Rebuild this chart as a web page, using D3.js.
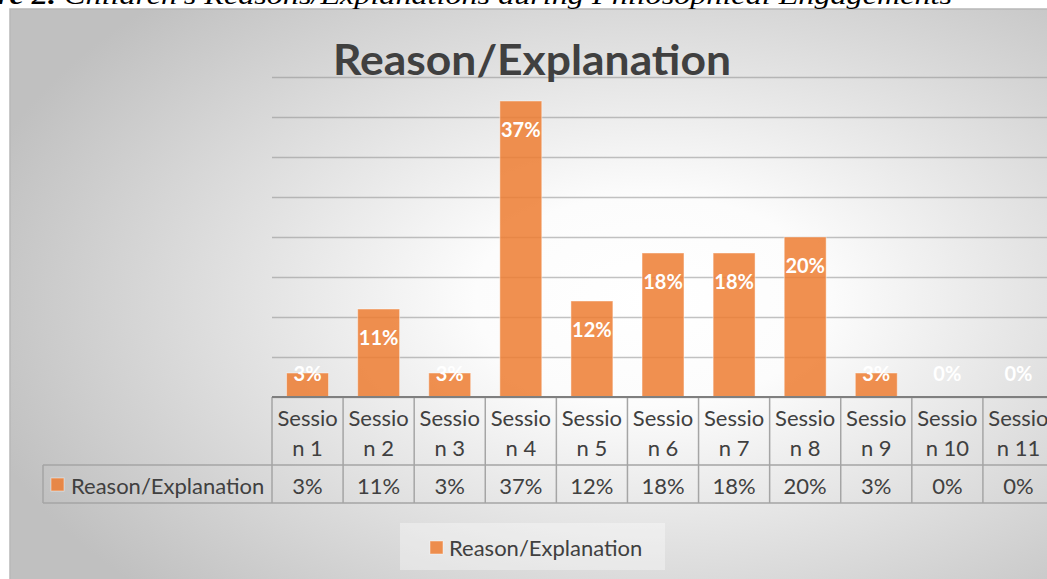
<!DOCTYPE html>
<html lang="en">
<head>
    <meta charset="UTF-8">
    <title>Reason/Explanation</title>
    <script src="https://d3js.org/d3.v7.min.js"></script>
    <style>
        body {
            margin: 0;
            background: #ffffff;
            overflow: hidden;
        }
        .cell-text {
            font-family: Lato, "Open Sans", sans-serif;
            font-size: 22px;
            fill: #404040;
        }
        .bar-label {
            font-family: Lato, "Open Sans", sans-serif;
            font-size: 20px;
            font-weight: bold;
            fill: #ffffff;
        }
    </style>
</head>
<body>
    <div id="chart"></div>
    <script>
        // data
        const categories = ["Session 1", "Session 2", "Session 3", "Session 4", "Session 5", "Session 6",
                            "Session 7", "Session 8", "Session 9", "Session 10", "Session 11"];
        const values = [3, 11, 3, 37, 12, 18, 18, 20, 3, 0, 0];
        const seriesName = "Reason/Explanation";
        const yTicks = [0, 5, 10, 15, 20, 25, 30, 35, 40];
        const chartTitle = "Reason/Explanation";

        const W = 1047, H = 579;
        const plot = {left: 272, right: 1054, top: 77, bottom: 397};
        const headerBottom = 465, tableBottom = 503, keyLeft = 43;
        const barColor = "#ED7D31";

        const svg = d3.select("#chart").append("svg")
            .attr("width", W)
            .attr("height", H);

        // radial background of the chart box
        const defs = svg.append("defs");
        const grad = defs.append("radialGradient")
            .attr("id", "bg")
            .attr("gradientUnits", "userSpaceOnUse")
            .attr("cx", 0).attr("cy", 0).attr("r", 1)
            .attr("gradientTransform", "translate(650,300) scale(700,420)");
        grad.append("stop").attr("offset", 0).attr("stop-color", "#ffffff");
        grad.append("stop").attr("offset", 0.25).attr("stop-color", "#fcfcfc");
        grad.append("stop").attr("offset", 1).attr("stop-color", "#c0c0c0");

        svg.append("rect")
            .attr("x", 10).attr("y", 9)
            .attr("width", 1060).attr("height", 590)
            .attr("fill", "url(#bg)")
            .attr("stroke", "#b8b8b8")
            .attr("stroke-width", 1.5);

        // caption above the chart (cut by the top edge)
        const cap = svg.append("text")
            .attr("x", -3)
            .attr("y", 4)
            .attr("font-family", "Liberation Serif, serif")
            .attr("font-size", 25)
            .attr("font-style", "italic")
            .attr("fill", "#000")
            .attr("textLength", 955)
            .attr("lengthAdjust", "spacingAndGlyphs");
        cap.append("tspan").attr("font-weight", "bold").text("re 2. ");
        cap.append("tspan").text("Children\u2019s Reasons/Explanations during Philosophical Engagements");

        // scales
        const x = d3.scaleBand()
            .domain(categories)
            .range([plot.left, plot.right])
            .paddingInner(0.41)
            .paddingOuter(0.205);

        const xCell = d3.scaleBand()
            .domain(categories)
            .range([plot.left, plot.right])
            .padding(0);

        const y = d3.scaleLinear()
            .domain([0, 40])
            .range([plot.bottom, plot.top]);

        // gridlines
        const grid = svg.append("g")
            .attr("transform", `translate(${plot.left},0)`)
            .call(d3.axisLeft(y).tickValues(yTicks).tickSize(-(plot.right - plot.left)).tickFormat(""));
        grid.select(".domain").remove();
        grid.selectAll("line")
            .attr("stroke", "#8f8f8f")
            .attr("stroke-opacity", 0.55)
            .attr("stroke-width", 1.5);

        // title
        svg.append("text")
            .attr("x", 532)
            .attr("y", 75)
            .attr("text-anchor", "middle")
            .attr("font-family", "Lato, 'Open Sans', sans-serif")
            .attr("font-size", 42)
            .attr("font-weight", "bold")
            .attr("fill", "#404040")
            .attr("textLength", 398)
            .attr("lengthAdjust", "spacingAndGlyphs")
            .text(chartTitle);

        // bars
        svg.selectAll("rect.bar")
            .data(values)
            .enter().append("rect")
            .attr("class", "bar")
            .attr("x", (d, i) => x(categories[i]))
            .attr("y", d => y(d))
            .attr("width", x.bandwidth())
            .attr("height", d => y(0) - y(d))
            .attr("fill", barColor)
            .attr("fill-opacity", 0.85)
            .attr("stroke", "#ffffff")
            .attr("stroke-opacity", 0.45)
            .attr("stroke-width", 1);

        // data labels, inside end
        svg.selectAll("text.bar-label")
            .data(values)
            .enter().append("text")
            .attr("class", "bar-label")
            .attr("x", (d, i) => x(categories[i]) + x.bandwidth() / 2)
            .attr("y", d => Math.min(y(d) + 28, y(0) - 24))
            .attr("text-anchor", "middle")
            .attr("dominant-baseline", "central")
            .text(d => d + "%");

        // data table
        const table = svg.append("g");
        const lineColor = "#a5a5a5";

        categories.forEach((c, i) => {
            const cx = xCell(c) + xCell.bandwidth() / 2;
            table.append("text").attr("class", "cell-text")
                .attr("x", cx).attr("y", 417)
                .attr("text-anchor", "middle").attr("dominant-baseline", "central")
                .text(c.slice(0, 6));
            table.append("text").attr("class", "cell-text")
                .attr("x", cx).attr("y", 447)
                .attr("text-anchor", "middle").attr("dominant-baseline", "central")
                .text(c.slice(6));
            table.append("text").attr("class", "cell-text")
                .attr("x", cx).attr("y", 485)
                .attr("text-anchor", "middle").attr("dominant-baseline", "central")
                .text(values[i] + "%");
        });

        // vertical cell borders
        const edges = categories.map(c => xCell(c)).concat([plot.right]);
        table.selectAll("line.v")
            .data(edges)
            .enter().append("line")
            .attr("x1", d => d).attr("x2", d => d)
            .attr("y1", plot.bottom).attr("y2", tableBottom)
            .attr("stroke", lineColor).attr("stroke-width", 1.5);

        table.append("line")
            .attr("x1", keyLeft).attr("x2", keyLeft)
            .attr("y1", headerBottom).attr("y2", tableBottom)
            .attr("stroke", lineColor).attr("stroke-width", 1.5);

        [headerBottom, tableBottom].forEach(yy => {
            table.append("line")
                .attr("x1", keyLeft).attr("x2", plot.right)
                .attr("y1", yy).attr("y2", yy)
                .attr("stroke", lineColor).attr("stroke-width", 1.5);
        });

        // axis line on top of the table
        svg.append("line")
            .attr("x1", plot.left).attr("x2", plot.right)
            .attr("y1", plot.bottom).attr("y2", plot.bottom)
            .attr("stroke", "#7f7f7f").attr("stroke-width", 2);

        // legend key in table
        table.append("rect")
            .attr("x", 51).attr("y", 478)
            .attr("width", 13).attr("height", 13)
            .attr("fill", barColor).attr("fill-opacity", 0.85)
            .attr("stroke", "#fff").attr("stroke-opacity", 0.45);
        table.append("text").attr("class", "cell-text")
            .attr("x", 71).attr("y", 485)
            .attr("dominant-baseline", "central")
            .text(seriesName);

        // legend below
        const legend = svg.append("g");
        legend.append("rect")
            .attr("x", 400).attr("y", 523)
            .attr("width", 265).attr("height", 47)
            .attr("fill", "#ffffff").attr("fill-opacity", 0.35);
        legend.append("rect")
            .attr("x", 430).attr("y", 541)
            .attr("width", 13).attr("height", 13)
            .attr("fill", barColor).attr("fill-opacity", 0.85)
            .attr("stroke", "#fff").attr("stroke-opacity", 0.45);
        legend.append("text").attr("class", "cell-text")
            .attr("x", 449).attr("y", 547)
            .attr("dominant-baseline", "central")
            .text(seriesName);
    </script>
</body>
</html>
